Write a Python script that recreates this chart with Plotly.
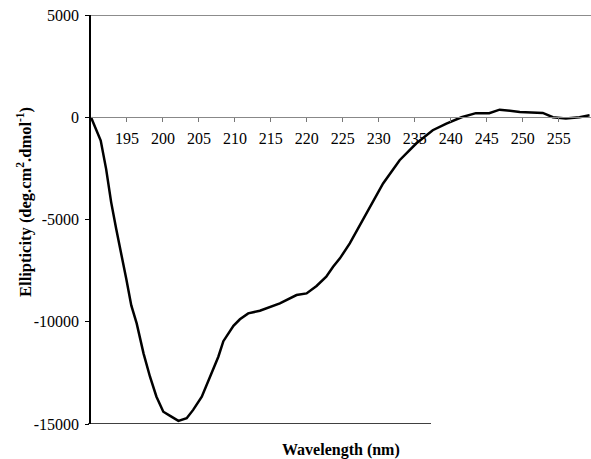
import plotly.graph_objects as go

# CD spectrum: mean residue ellipticity vs wavelength
wavelength = [190.0, 190.6, 191.35, 192.1, 192.8, 193.5, 194.2, 194.9, 195.6, 196.35,
              197.3, 198.2, 199.1, 200.05, 201.0, 202.15, 203.3, 204.2, 205.4, 206.6,
              207.7, 208.4, 209.3, 209.8, 210.7, 211.85, 213.47, 216.25, 218.57, 219.96,
              221.35, 222.7, 223.65, 224.6, 225.97, 228.3, 230.6, 232.9, 235.2, 237.5,
              238.75, 239.4, 241.5, 243.5, 245.35, 246.8, 249.6, 252.8, 254.2, 256.0,
              257.9, 259.3]
ellipticity = [0, -500, -1140, -2525, -4150, -5455, -6595, -7900, -9200, -10080,
               -11545, -12690, -13665, -14400, -14605, -14850, -14720, -14310, -13665, -12690,
               -11710, -10950, -10450, -10200, -9880, -9590, -9462, -9101, -8695, -8613,
               -8250, -7800, -7313, -6900, -6170, -4704, -3239, -2100, -1285, -635,
               -400, -308, 0, 200, 200, 370, 260, 210, 0, -60,
               0, 100]

x_ticks = [195, 200, 205, 210, 215, 220, 225, 230, 235, 240, 245, 250, 255]
y_ticks = [5000, 0, -5000, -10000, -15000]
y_tick_labels = ["5000", "0", "-5000", "-10000", "-15000"]

x_range = [190, 259.5]
y_range = [-15000, 5000]

FONT = "Liberation Serif, Times New Roman, serif"

fig = go.Figure()
fig.add_trace(go.Scatter(
    x=wavelength, y=ellipticity, mode="lines",
    line=dict(color="black", width=2.5),
    showlegend=False, hoverinfo="skip",
))

# x axis sits on the zero line
zero_pos = (0 - y_range[0]) / (y_range[1] - y_range[0])

fig.update_layout(
    width=591, height=459,
    margin=dict(l=91, r=0, t=15, b=35),
    paper_bgcolor="white", plot_bgcolor="white",
    font=dict(family=FONT, size=16, color="black"),
    xaxis=dict(
        range=x_range, anchor="free", position=zero_pos,
        tickvals=x_ticks, ticks="outside", ticklen=4, tickcolor="#777",
        showline=True, linecolor="#888", linewidth=1,
        showgrid=False, zeroline=False,
        tickfont=dict(family=FONT, size=16, color="black"),
        ticklabelstandoff=3,
    ),
    yaxis=dict(
        range=y_range, tickvals=y_ticks, ticktext=y_tick_labels,
        ticks="outside", ticklen=4, tickcolor="black",
        showline=True, linecolor="black", linewidth=1.5,
        showgrid=False, zeroline=False,
        tickfont=dict(family=FONT, size=16, color="black"),
        ticklabelstandoff=3,
    ),
    shapes=[
        dict(type="line", xref="paper", yref="y", x0=0, x1=1, y0=y_range[1], y1=y_range[1],
             line=dict(color="#666", width=1.5)),
        dict(type="line", xref="paper", yref="y", x0=-0.006, x1=0.68, y0=y_range[0], y1=y_range[0],
             line=dict(color="black", width=1.5)),
    ],
    annotations=[
        dict(text="<b>Wavelength (nm)</b>", xref="paper", yref="paper",
             x=0.5, y=-0.064, xanchor="center", yanchor="middle", showarrow=False,
             font=dict(family=FONT, size=16, color="black")),
        dict(text="<b>Ellipticity (deg.cm<sup>2</sup>.dmol<sup>-1</sup>)</b>",
             xref="paper", yref="paper", x=-0.132, y=0.543, textangle=-90,
             xanchor="center", yanchor="middle", showarrow=False,
             font=dict(family=FONT, size=16.5, color="black")),
    ],
)

fig.write_html("out.html")
